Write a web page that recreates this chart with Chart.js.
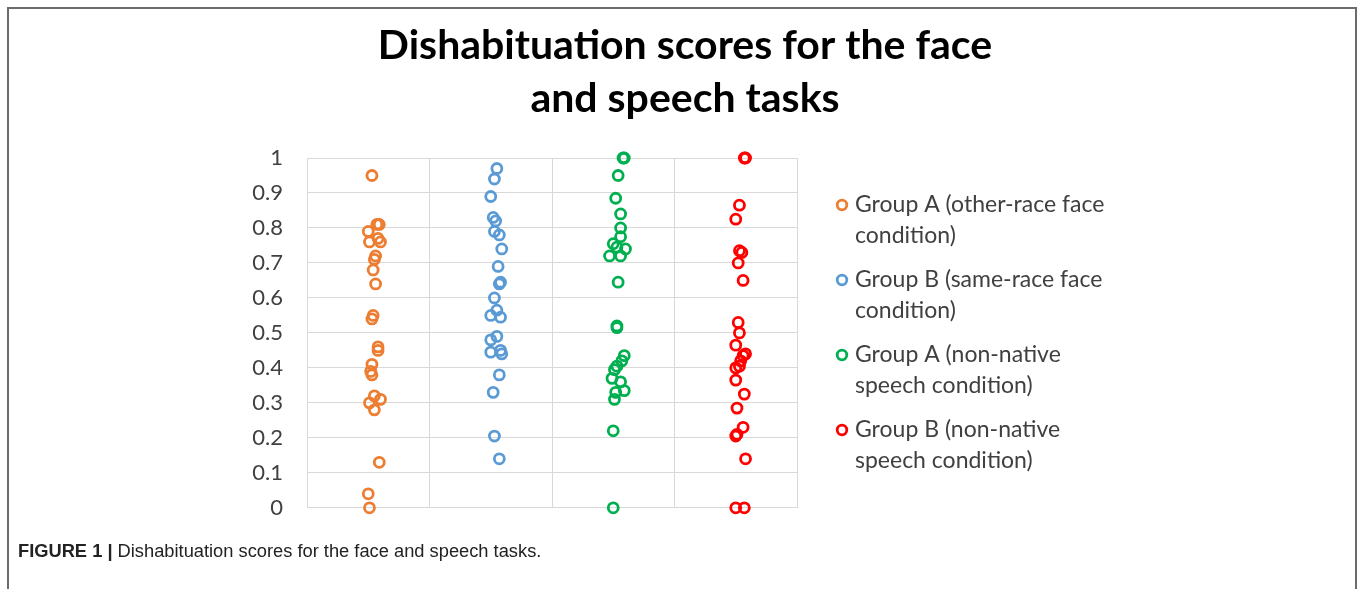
<!DOCTYPE html>
<html>
<head>
<meta charset="utf-8">
<script src="https://cdn.jsdelivr.net/npm/chart.js@4.4.0/dist/chart.umd.min.js"></script>
<style>
  html, body { margin: 0; padding: 0; background: #fff; }
  body { width: 1357px; height: 589px; position: relative; overflow: hidden; }
  #frame {
    position: absolute; left: 7px; top: 7px; width: 1346px; height: 620px;
    border: 2px solid #6b6b6b; border-bottom: none;
  }
  #wrap { position: absolute; left: 13px; top: 0; width: 1344px; height: 545px; }
  #caption {
    position: absolute; left: 18px; top: 540px;
    font-family: "Liberation Sans", Arial, sans-serif; font-size: 18.3px; color: #222;
  }
  #caption b { font-weight: bold; }
</style>
</head>
<body>
<div id="frame"></div>
<div id="wrap"><canvas id="chart" width="1344" height="545"></canvas></div>
<div id="caption"><b>FIGURE 1 |</b> Dishabituation scores for the face and speech tasks.</div>
<script>
const titleLines = ["Dishabituation scores for the face", "and speech tasks"];
const seriesLabels = [
  ["Group A (other-race face", "condition)"],
  ["Group B (same-race face", "condition)"],
  ["Group A (non-native", "speech condition)"],
  ["Group B (non-native", "speech condition)"],
];
const seriesColors = ["#ED7D31", "#5B9BD5", "#00B050", "#FF0000"];
const yTicks = [0, 0.1, 0.2, 0.3, 0.4, 0.5, 0.6, 0.7, 0.8, 0.9, 1];

// scores, x is the jittered column position
const faceOtherY = [0.95, 0.81, 0.81, 0.79, 0.77, 0.76, 0.76, 0.72, 0.71, 0.68, 0.64, 0.55, 0.54,
  0.46, 0.45, 0.41, 0.39, 0.38, 0.32, 0.31, 0.30, 0.28, 0.13, 0.04, 0.0];
const faceOtherX = [0.53, 0.57, 0.59, 0.50, 0.58, 0.51, 0.60, 0.56, 0.55, 0.54, 0.56, 0.54, 0.53,
  0.58, 0.58, 0.53, 0.52, 0.53, 0.55, 0.60, 0.51, 0.55, 0.59, 0.50, 0.51];

const faceSameY = [0.97, 0.94, 0.89, 0.83, 0.82, 0.79, 0.78, 0.74, 0.69, 0.645, 0.64, 0.60, 0.565,
  0.55, 0.545, 0.49, 0.48, 0.45, 0.445, 0.44, 0.38, 0.33, 0.205, 0.14];
const faceSameX = [1.55, 1.53, 1.50, 1.52, 1.54, 1.53, 1.57, 1.59, 1.56, 1.58, 1.57, 1.53, 1.55,
  1.50, 1.58, 1.55, 1.50, 1.58, 1.50, 1.59, 1.57, 1.52, 1.53, 1.57];

const speechAY = [1.0, 1.0, 0.95, 0.885, 0.84, 0.80, 0.775, 0.755, 0.745, 0.74, 0.72, 0.72, 0.645,
  0.52, 0.515, 0.435, 0.42, 0.405, 0.395, 0.37, 0.36, 0.335, 0.33, 0.31, 0.22, 0.0];
const speechAX = [2.58, 2.59, 2.54, 2.52, 2.56, 2.56, 2.56, 2.50, 2.53, 2.60, 2.47, 2.56, 2.54,
  2.53, 2.53, 2.59, 2.57, 2.53, 2.51, 2.49, 2.56, 2.59, 2.52, 2.51, 2.50, 2.50];

const speechBY = [1.0, 1.0, 0.865, 0.825, 0.735, 0.73, 0.70, 0.65, 0.53, 0.50, 0.465, 0.44, 0.435,
  0.42, 0.405, 0.40, 0.365, 0.325, 0.285, 0.23, 0.21, 0.205, 0.14, 0.0, 0.0];
const speechBX = [3.57, 3.58, 3.53, 3.50, 3.53, 3.55, 3.52, 3.56, 3.52, 3.53, 3.50, 3.58, 3.56,
  3.54, 3.53, 3.50, 3.50, 3.57, 3.51, 3.56, 3.51, 3.50, 3.58, 3.50, 3.57];

const groupsY = [faceOtherY, faceSameY, speechAY, speechBY];
const groupsX = [faceOtherX, faceSameX, speechAX, speechBX];

const datasets = groupsY.map((ys, i) => ({
  label: seriesLabels[i].join(" "),
  data: ys.map((y, j) => ({ x: groupsX[i][j], y: y })),
  borderColor: seriesColors[i],
  backgroundColor: "rgba(0,0,0,0)",
  pointStyle: "circle",
  pointRadius: 5,
  pointBorderWidth: 2.8,
  clip: false,
}));

// title centred over plot + legend, legend with two-line labels on the right
const titleAndLegend = {
  id: "titleAndLegend",
  afterDraw(chart) {
    const ctx = chart.ctx;
    ctx.save();
    ctx.fillStyle = "#000";
    ctx.font = "bold 41px Lato";
    ctx.textAlign = "center";
    ctx.textBaseline = "alphabetic";
    titleLines.forEach((t, k) => ctx.fillText(t, 672, 59 + k * 53));

    const left = chart.chartArea.right + 45;
    ctx.font = "23px Lato";
    ctx.textAlign = "left";
    ctx.textBaseline = "middle";
    seriesLabels.forEach((lines, i) => {
      const y0 = 205 + i * 75;
      ctx.beginPath();
      ctx.arc(left, y0, 4.8, 0, Math.PI * 2);
      ctx.lineWidth = 2.8;
      ctx.strokeStyle = seriesColors[i];
      ctx.stroke();
      ctx.fillStyle = "#404040";
      lines.forEach((t, k) => ctx.fillText(t, left + 13, y0 + k * 31));
    });
    ctx.restore();
  },
};

const ctx = document.getElementById("chart").getContext("2d");
new Chart(ctx, {
  type: "scatter",
  data: { datasets: datasets },
  plugins: [titleAndLegend],
  options: {
    responsive: false,
    animation: false,
    layout: { padding: { left: 200, right: 560, top: 158, bottom: 8 } },
    plugins: {
      legend: { display: false },
      tooltip: { enabled: false },
      title: { display: false },
    },
    scales: {
      x: {
        type: "linear",
        min: 0,
        max: 4,
        afterFit: (scale) => { scale.height = 0; },
        ticks: { display: false, stepSize: 1 },
        grid: { color: "#d9d9d9", drawTicks: false },
        border: { color: "#d9d9d9" },
      },
      y: {
        min: 0,
        max: 1,
        afterBuildTicks: (scale) => { scale.ticks = yTicks.map((v) => ({ value: v })); },
        afterFit: (scale) => { scale.width = 94; },
        ticks: {
          color: "#404040",
          font: { family: "Lato", size: 22 },
          padding: 24,
          callback: (v) => String(Math.round(v * 10) / 10),
        },
        grid: { color: "#d9d9d9", drawTicks: false },
        border: { color: "#d9d9d9" },
      },
    },
  },
});
</script>
</body>
</html>
